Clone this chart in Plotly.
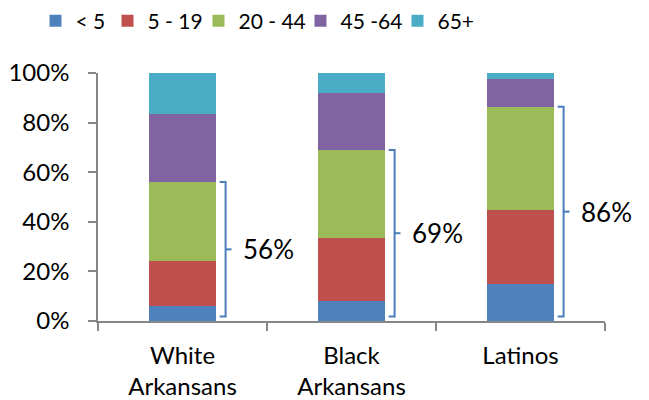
import plotly.graph_objects as go

categories = ["White<br>Arkansans", "Black<br>Arkansans", "Latinos"]
age_groups = ["< 5", "5 - 19", "20 - 44", "45 -64", "65+"]
under5 = [6.0, 8.0, 14.8]
age5_19 = [18.0, 25.5, 29.8]
age20_44 = [32.0, 35.5, 41.8]
age45_64 = [27.5, 23.0, 11.1]
age65plus = [16.5, 8.0, 2.5]
series = [under5, age5_19, age20_44, age45_64, age65plus]
colors = ["#4F81BD", "#C0504D", "#9BBB59", "#8064A2", "#4BACC6"]
legend_widths = [27, 46, 57, 52, 34]

# the page body adds an 8px margin; size the figure so it fits the window
W, H, OFF = 649, 400, 8
FONT = "Lato, 'Open Sans', sans-serif"
fig = go.Figure()
for name, vals, col, lw in zip(age_groups, series, colors, legend_widths):
    fig.add_trace(go.Bar(x=categories, y=vals, name=name, legendwidth=lw,
                         marker=dict(color=col, line=dict(width=0))))

# brackets showing share under 45
bracket_col = "#4A7EBB"
bottom = 1.8
for i in range(len(categories)):
    top = under5[i] + age5_19[i] + age20_44[i]
    mid = (top + bottom) / 2
    xb, xs, xt = i + 0.255, i + 0.22, i + 0.29
    fig.add_shape(type="path", xref="x", yref="y",
                  path=f"M {xs},{top} L {xb},{top} L {xb},{bottom} L {xs},{bottom}",
                  line=dict(color=bracket_col, width=2))
    fig.add_shape(type="line", xref="x", yref="y", x0=xb, x1=xt, y0=mid, y1=mid,
                  line=dict(color=bracket_col, width=2))
    fig.add_annotation(x=i + 0.345, y=mid, xref="x", yref="y", text=f"{round(top)}%",
                       showarrow=False, xanchor="left", yanchor="middle",
                       font=dict(size=26, color="black", family=FONT))

fig.update_layout(
    width=W - OFF, height=H - OFF,
    barmode="stack", bargap=0.6,
    margin=dict(l=98 - OFF, r=44, t=73 - OFF, b=79, autoexpand=False),
    paper_bgcolor="white", plot_bgcolor="white",
    font=dict(family=FONT, color="black"),
    showlegend=True,
    legend=dict(orientation="h", xref="container", yref="container",
                x=(256 - OFF) / (W - OFF), xanchor="center",
                y=1 - (21 - OFF) / (H - OFF), yanchor="middle",
                font=dict(size=21, family=FONT), traceorder="normal"),
)
fig.update_yaxes(range=[0, 100], dtick=20, ticksuffix="%", showgrid=False,
                 showline=True, linecolor="#868686", linewidth=1.5,
                 ticks="outside", ticklen=8, tickcolor="#868686", tickwidth=1.5,
                 ticklabelstandoff=14, tickfont=dict(size=24), zeroline=False)
fig.update_xaxes(range=[-0.5, 2.5], showgrid=False, showline=True,
                 linecolor="#868686", linewidth=1.5,
                 ticks="outside", ticklen=8, tickcolor="#868686", tickwidth=1.5,
                 tickson="boundaries", ticklabelstandoff=12, tickfont=dict(size=24))

fig.write_html("out.html")
